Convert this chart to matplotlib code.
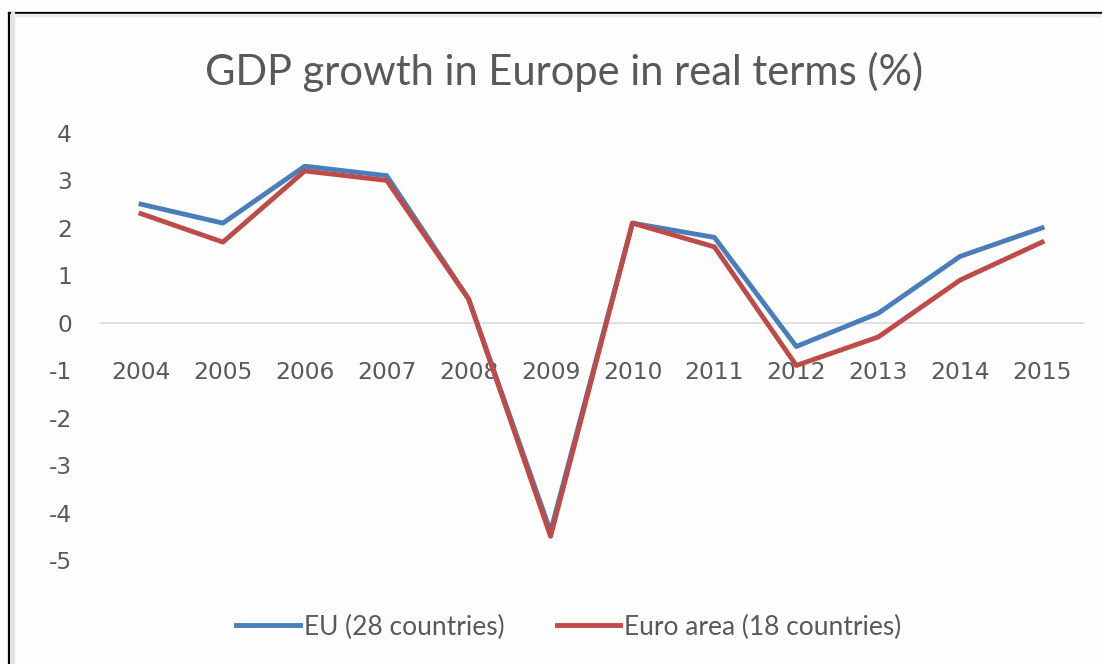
import matplotlib
matplotlib.use("Agg")
import matplotlib.pyplot as plt
from matplotlib.lines import Line2D

years = [2004, 2005, 2006, 2007, 2008, 2009, 2010, 2011, 2012, 2013, 2014, 2015]
eu28 = [2.5, 2.1, 3.3, 3.1, 0.5, -4.4, 2.1, 1.8, -0.5, 0.2, 1.4, 2.0]
euro18 = [2.3, 1.7, 3.2, 3.0, 0.5, -4.5, 2.1, 1.6, -0.9, -0.3, 0.9, 1.7]
y_ticks = [4, 3, 2, 1, 0, -1, -2, -3, -4, -5]

W, H = 1102, 664
fig = plt.figure(figsize=(W / 100, H / 100), dpi=100)
fig.patch.set_facecolor("#fdfdfd")

# frame: black outer edge on top/left with a soft grey inner band
fig.add_artist(Line2D([8.5 / W, 8.5 / W], [0, 1 - 12.5 / H], transform=fig.transFigure,
                      color="black", lw=1.6))
fig.add_artist(Line2D([8.5 / W, 1], [1 - 12.5 / H, 1 - 12.5 / H], transform=fig.transFigure,
                      color="black", lw=1.6))
fig.add_artist(Line2D([12.5 / W, 12.5 / W], [0, 1 - 14 / H], transform=fig.transFigure,
                      color="#e2e2e2", lw=3))
fig.add_artist(Line2D([12.5 / W, 1], [1 - 15 / H, 1 - 15 / H], transform=fig.transFigure,
                      color="#ececec", lw=2.5))

left, right = 100 / W, 1083 / W
top, bottom = 1 - 133 / H, 1 - 560 / H
ax = fig.add_axes([left, bottom, right - left, top - bottom])
ax.set_facecolor("none")

ax.plot(years, eu28, color="#4a7ebb", lw=3.5, solid_joinstyle="round",
        label="EU (28 countries)")
ax.plot(years, euro18, color="#be4b48", lw=3.5, solid_joinstyle="round",
        label="Euro area (18 countries)")

ax.set_xlim(2003.5, 2015.5)
ax.set_ylim(-5, 4)
ax.set_yticks(y_ticks)
ax.set_yticklabels([str(v) for v in y_ticks])
ax.set_xticks(years)
ax.set_xticklabels([str(y) for y in years])

for s in ("top", "right", "left"):
    ax.spines[s].set_visible(False)
ax.spines["bottom"].set_position(("data", 0))
ax.spines["bottom"].set_color("#d9d9d9")
ax.spines["bottom"].set_linewidth(1.2)
ax.spines["bottom"].set_zorder(0)

ax.tick_params(axis="x", length=0, pad=27.5, labelsize=16.8, labelcolor="#595959")
ax.tick_params(axis="y", length=0, pad=20, labelsize=16.8, labelcolor="#595959")
for lab in ax.get_xticklabels() + ax.get_yticklabels():
    lab.set_family("DejaVu Sans")

fig.text(564 / W, 1 - 72 / H, "GDP growth in Europe in real terms (%)",
         ha="center", va="center", fontsize=30, color="#595959", family="Lato")

leg = fig.legend(loc="center", bbox_to_anchor=(569 / W, 1 - 627 / H), ncol=2,
                 frameon=False, handlelength=2.4, handletextpad=0.15, columnspacing=2.0,
                 prop={"family": "Lato", "size": 19})
for t in leg.get_texts():
    t.set_color("#595959")

fig.savefig("out.png", dpi=100, facecolor=fig.get_facecolor())
